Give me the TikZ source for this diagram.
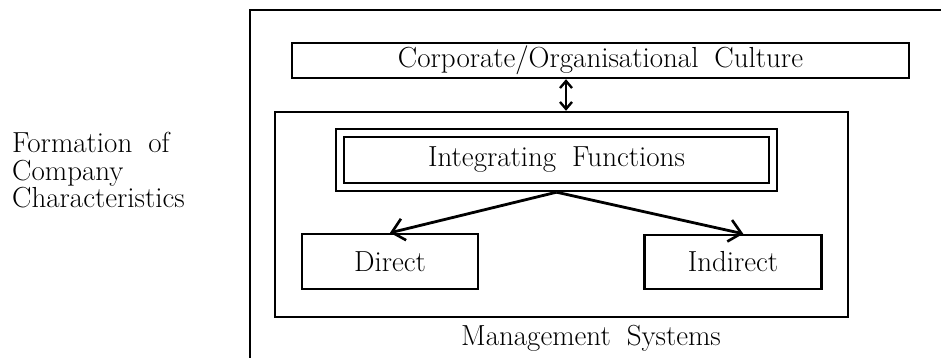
\documentclass[tikz,border=0pt]{standalone}
\usetikzlibrary{arrows.meta}
\begin{document}
\begin{tikzpicture}[x=1pt, y=-1pt,
  txt/.style={font={\fontsize{29}{27.5}\selectfont\spaceskip=0.55em plus 0.1em}},
  box/.style={draw, line width=2.4pt, inner sep=0pt, txt},
  flow/.style={line width=2.8pt, -{Straight Barb[length=12pt,width=22pt,line width=2.6pt]}},
  link/.style={line width=2.4pt, {Straight Barb[length=7pt,width=12pt,line width=2.4pt]}-{Straight Barb[length=7pt,width=12pt,line width=2.4pt]}}]
  \useasboundingbox (0,0) rectangle (941,358);

  % frame around the company (open to the right and below)
  \draw[line width=2.4pt] (960,10) -- (250,10) -- (250,370);

  % side caption
  \node[txt, align=left, anchor=north west, inner sep=0pt] (caption) at (12,132)
    {Formation of\\Company\\Characteristics};

  % culture
  \node[box, minimum width=617pt, minimum height=35pt] (culture) at (600.5,60.5)
    {Corporate/Organisational Culture};

  % management systems
  \node[box, minimum width=573pt, minimum height=205pt] (mgmt) at (561.5,214.5) {};
  \node[txt, inner sep=0pt, anchor=base] (mgmtlabel) at (591,345) {Management Systems};

  % integrating functions (double frame)
  \node[box, minimum width=441pt, minimum height=62pt] (intfo) at (556.5,160) {};
  \node[box, minimum width=425pt, minimum height=46pt] (intf) at (556.5,160)
    {Integrating Functions};

  % direct / indirect
  \node[box, minimum width=176pt, minimum height=55pt] (direct) at (390,261.5) {Direct};
  \node[box, minimum width=177pt, minimum height=54pt] (indirect) at (733,262) {Indirect};

  % connectors
  \draw[link] (culture.south -| 566,0) -- (mgmt.north -| 566,0);
  \draw[flow] (intfo.south) -- (direct.north);
  \draw[flow] (intfo.south) -- (indirect.70);
\end{tikzpicture}
\end{document}
